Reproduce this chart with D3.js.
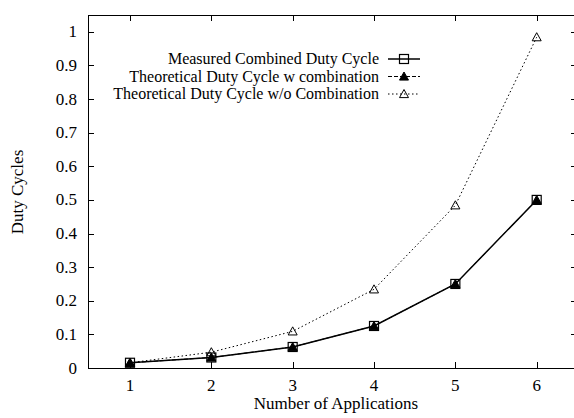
<!DOCTYPE html>
<html>
<head>
<meta charset="utf-8">
<script src="https://cdn.jsdelivr.net/npm/d3@7"></script>
<style>
  html, body { margin: 0; padding: 0; background: #fff; }
  svg { display: block; }
  text { font-family: "Liberation Serif", "DejaVu Serif", serif; fill: #000; }
</style>
</head>
<body>
<svg id="chart" width="574" height="418"></svg>
<script>
// Number of applications sharing the radio
const apps = [1, 2, 3, 4, 5, 6];
// Duty cycles per series
const measuredCombined = [0.0156, 0.03125, 0.0625, 0.125, 0.25, 0.5];
const theoreticalWith = [0.0156, 0.03125, 0.0625, 0.125, 0.25, 0.5];
const theoreticalWithout = [0.0156, 0.047, 0.109, 0.234, 0.484, 0.984];
const seriesNames = [
  "Measured Combined Duty Cycle",
  "Theoretical Duty Cycle w combination",
  "Theoretical Duty Cycle w/o Combination"
];
const xTicks = [1, 2, 3, 4, 5, 6];
const yTicks = [0, 0.1, 0.2, 0.3, 0.4, 0.5, 0.6, 0.7, 0.8, 0.9, 1];

const svg = d3.select("#chart");
const plotLeft = 88, plotTop = 15, plotBottom = 368, plotRight = 577;
const fontSize = 17;
const legendFontSize = 16;

const x = d3.scaleLinear().domain([1, 6]).range([130, 536.7]);
const y = d3.scaleLinear().domain([0, 1.05]).range([plotBottom, plotTop]);

// Ticks (inward, mirrored on the opposite sides)
const tickLen = 6;
const axisG = svg.append("g").attr("stroke", "#000").attr("stroke-width", 1);
yTicks.forEach(v => {
  const yy = Math.round(y(v)) + 0.5;
  axisG.append("line").attr("x1", plotLeft).attr("x2", plotLeft + tickLen).attr("y1", yy).attr("y2", yy);
  axisG.append("line").attr("x1", plotRight - tickLen).attr("x2", plotRight).attr("y1", yy).attr("y2", yy);
});
xTicks.forEach(v => {
  const xx = Math.round(x(v)) + 0.5;
  axisG.append("line").attr("x1", xx).attr("x2", xx).attr("y1", plotBottom).attr("y2", plotBottom - tickLen);
  axisG.append("line").attr("x1", xx).attr("x2", xx).attr("y1", plotTop).attr("y2", plotTop + tickLen);
});

// Plot border
svg.append("rect")
  .attr("x", plotLeft + 0.5).attr("y", plotTop + 0.5)
  .attr("width", plotRight - plotLeft).attr("height", plotBottom - plotTop)
  .attr("fill", "none").attr("stroke", "#000").attr("stroke-width", 1);

// Tick labels
svg.append("g").selectAll("text").data(yTicks).join("text")
  .attr("x", 77).attr("y", d => y(d) + 5.5)
  .attr("text-anchor", "end").attr("font-size", fontSize)
  .text(d => d3.format("")(d));
svg.append("g").selectAll("text").data(xTicks).join("text")
  .attr("x", d => x(d)).attr("y", 391)
  .attr("text-anchor", "middle").attr("font-size", fontSize)
  .text(d => d);

// Axis titles
svg.append("text").attr("x", 336).attr("y", 409)
  .attr("text-anchor", "middle").attr("font-size", fontSize)
  .text("Number of Applications");
svg.append("text")
  .attr("transform", "translate(23,192) rotate(-90)")
  .attr("text-anchor", "middle").attr("font-size", fontSize)
  .text("Duty Cycles");

const line = d3.line().x((d, i) => x(apps[i])).y(d => y(d));

const series = [
  { values: theoreticalWithout, dash: "1.5,2.5", width: 1, marker: "openTri" },
  { values: theoreticalWith, dash: "4,2", width: 1, marker: "filledTri" },
  { values: measuredCombined, dash: null, width: 1.5, marker: "square" }
];

function drawMarker(g, kind, cx, cy) {
  if (kind === "square") {
    g.append("rect").attr("x", cx - 4.5).attr("y", cy - 4.5)
      .attr("width", 9).attr("height", 9)
      .attr("fill", "none").attr("stroke", "#000").attr("stroke-width", 1.2);
  } else {
    const s = 4.5;
    const pts = [[cx, cy - s], [cx - s, cy + s * 0.8], [cx + s, cy + s * 0.8]];
    g.append("polygon").attr("points", pts.map(p => p.join(",")).join(" "))
      .attr("fill", kind === "filledTri" ? "#000" : "none")
      .attr("stroke", "#000").attr("stroke-width", 1);
  }
}

const plotG = svg.append("g");
series.forEach(s => {
  plotG.append("path").datum(s.values)
    .attr("d", line)
    .attr("fill", "none").attr("stroke", "#000")
    .attr("stroke-width", s.width)
    .attr("stroke-dasharray", s.dash);
});
series.forEach(s => {
  s.values.forEach((v, i) => drawMarker(plotG, s.marker, x(apps[i]), y(v)));
});

// Legend
const legendG = svg.append("g");
const legendRows = [
  { name: seriesNames[0], dash: null, width: 1.5, marker: "square" },
  { name: seriesNames[1], dash: "4,2", width: 1, marker: "filledTri" },
  { name: seriesNames[2], dash: "1.5,2.5", width: 1, marker: "openTri" }
];
legendRows.forEach((r, i) => {
  const yy = 59 + i * 17.5;
  legendG.append("text").attr("x", 379).attr("y", yy + 5)
    .attr("text-anchor", "end").attr("font-size", legendFontSize).text(r.name);
  legendG.append("line").attr("x1", 388).attr("x2", 420).attr("y1", yy).attr("y2", yy)
    .attr("stroke", "#000").attr("stroke-width", r.width)
    .attr("stroke-dasharray", r.dash);
  drawMarker(legendG, r.marker, 404, yy);
});
</script>
</body>
</html>
